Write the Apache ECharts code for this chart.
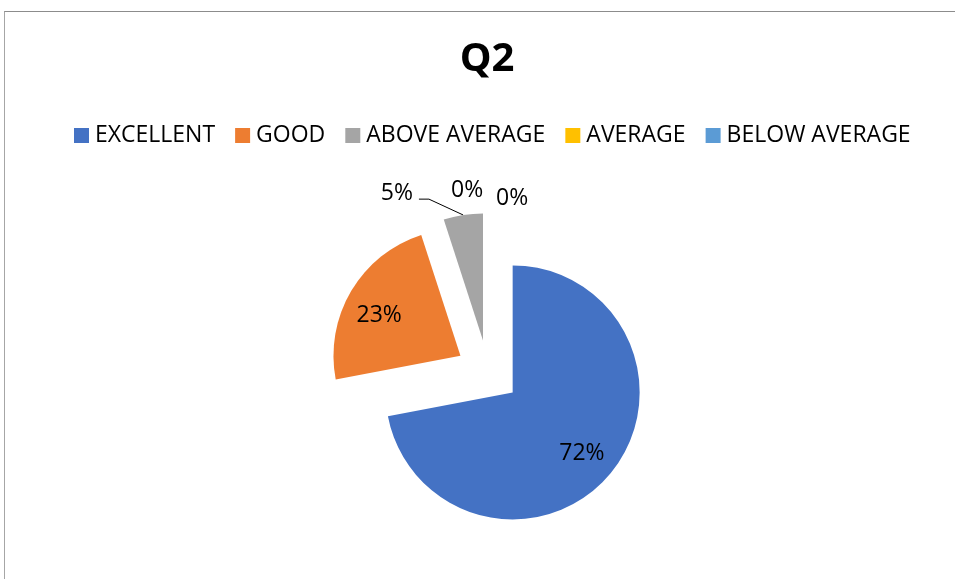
<!DOCTYPE html>
<html>
<head>
<meta charset="utf-8">
<title>Q2</title>
<script src="https://cdn.jsdelivr.net/npm/echarts@6.0.0/dist/echarts.min.js"></script>
<style>
  body { margin: 0; background: #fff; }
  #wrap { position: relative; width: 955px; height: 579px; overflow: hidden; }
  #frame { position: absolute; left: 4px; top: 11px; width: 2000px; height: 2000px;
           border-top: 1px solid #8c8c8c; border-left: 1px solid #a6a6a6; }
  #chart { position: absolute; left: 0; top: 0; width: 955px; height: 579px; }
</style>
</head>
<body>
<div id="wrap">
  <div id="frame"></div>
  <div id="chart"></div>
</div>
<script>
// 数据
var categories = ['EXCELLENT', 'GOOD', 'ABOVE AVERAGE', 'AVERAGE', 'BELOW AVERAGE'];
var values = [72, 23, 5, 0, 0];
var colors = ['#4472C4', '#ED7D31', '#A5A5A5', '#FFC000', '#5B9BD5'];

var font = 'Open Sans';
// 标签微调
var labelShift = [[18, 19], [-24, -6], [-31, -8], [-54, -9], [-9, -1]];
var insideIdx = [0, 1];

var chart = echarts.init(document.getElementById('chart'));

var data = categories.map(function (name, i) {
  var inside = insideIdx.indexOf(i) >= 0;
  return {
    name: name,
    value: values[i],
    selected: true,
    itemStyle: { color: colors[i] },
    label: { position: inside ? 'inside' : 'outside' },
    labelLine: { show: i === 2 }
  };
});

chart.setOption({
  title: {
    text: 'Q2',
    left: 482, textAlign: 'center',
    top: 35,
    textStyle: { fontFamily: font, fontSize: 40, fontWeight: 'bold', color: '#000' }
  },
  legend: {
    top: 119,
    left: 69,
    itemWidth: 15, itemHeight: 15, itemGap: 20,
    icon: 'rect',
    selectedMode: false,
    textStyle: { fontFamily: font, fontSize: 23, color: '#000', padding: [0, 0, 0, 1] },
    data: categories
  },
  series: [{
    type: 'pie',
    center: [488, 372],
    radius: 127,
    startAngle: 90,
    clockwise: true,
    selectedMode: 'multiple',
    selectedOffset: 32,
    avoidLabelOverlap: false,
    animation: false,
    label: {
      show: true,
      formatter: function (p) { return Math.round(p.percent) + '%'; },
      fontFamily: font, fontSize: 23, color: '#000'
    },
    labelLine: {
      length: 14, length2: 12,
      lineStyle: { color: '#000', width: 1 }
    },
    labelLayout: function (p) {
      var s = labelShift[p.dataIndex];
      var out = { dx: s[0], dy: s[1] };
      if (p.dataIndex === 2 && p.labelLinePoints) {
        // 引导线：从扇区外缘斜向到标签右侧，再接短横线
        var a = p.labelLinePoints[0];
        var r = p.labelRect;
        var ex = r.x + r.width + s[0] + 6;
        var ey = r.y + r.height / 2 + s[1] + 6;
        out.labelLinePoints = [a, [ex + 10, ey], [ex, ey]];
      }
      return out;
    },
    emphasis: { disabled: true },
    select: { itemStyle: { borderWidth: 0 } },
    data: data
  }]
});
</script>
</body>
</html>
